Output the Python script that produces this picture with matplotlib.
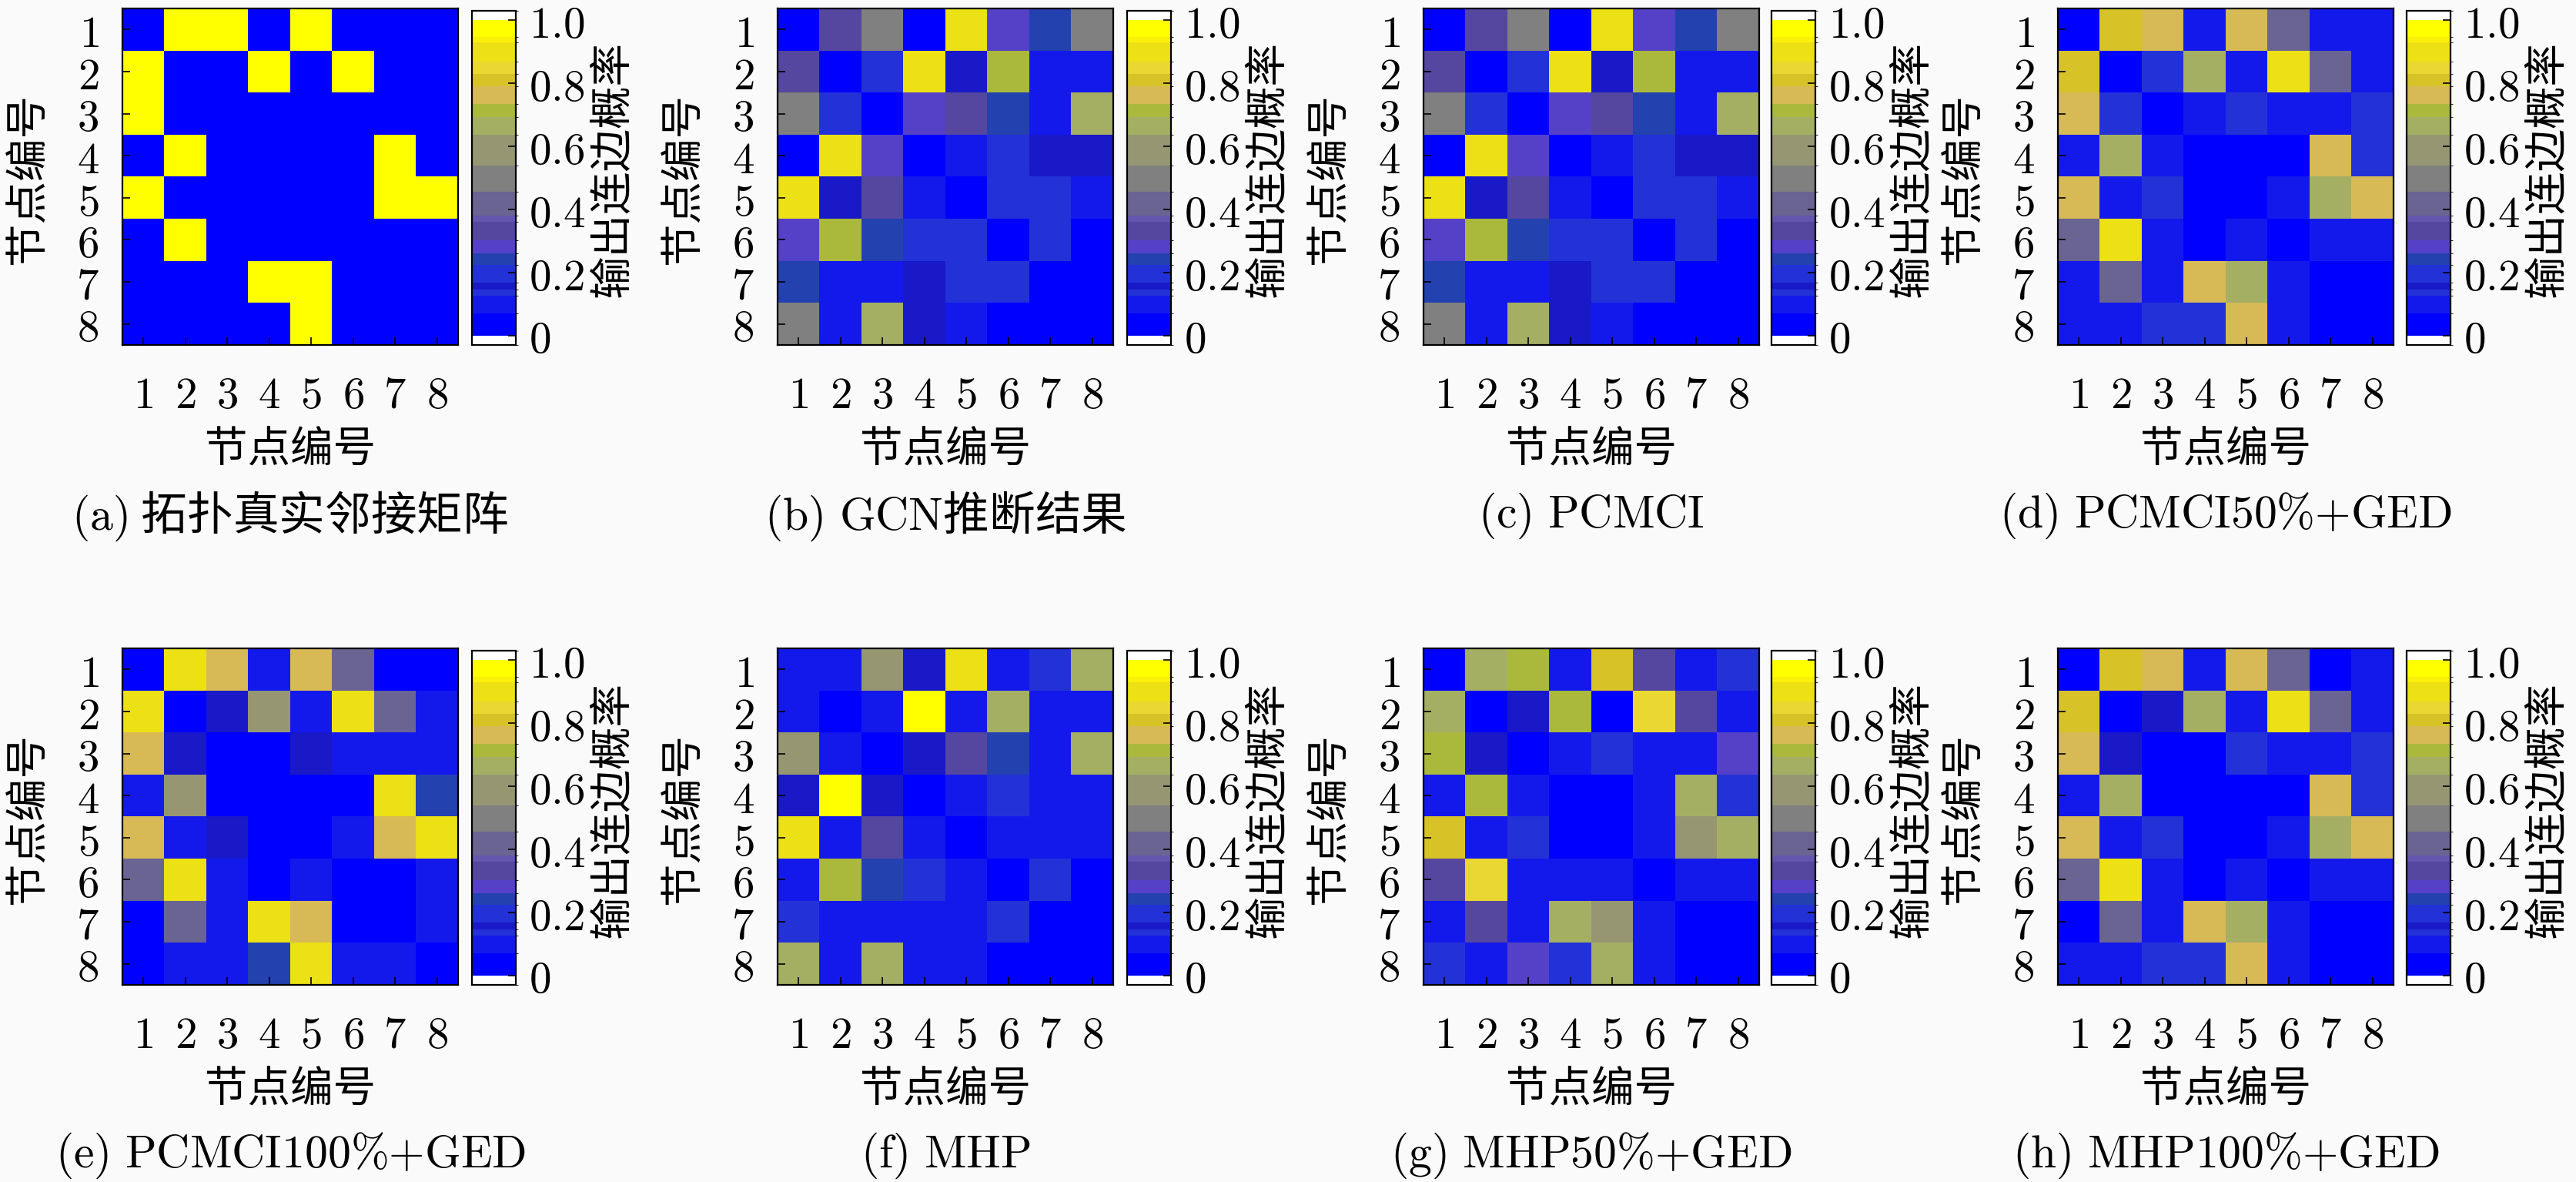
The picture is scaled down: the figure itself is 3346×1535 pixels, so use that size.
import numpy as np
import matplotlib
matplotlib.use("Agg")
import matplotlib.pyplot as plt
from matplotlib.colors import ListedColormap, BoundaryNorm
from matplotlib.cm import ScalarMappable

plt.rcParams['font.family'] = ['Noto Sans CJK SC', 'DejaVu Sans']
plt.rcParams['mathtext.fontset'] = 'cm'

# ---------------- data ----------------
nodes = [1, 2, 3, 4, 5, 6, 7, 8]
cbar_ticks = [0, 0.2, 0.4, 0.6, 0.8, 1.0]
cbar_ticklabels = ['0', '0.2', '0.4', '0.6', '0.8', '1.0']

true_adj = [
    [0, 1, 1, 0, 1, 0, 0, 0],
    [1, 0, 0, 1, 0, 1, 0, 0],
    [1, 0, 0, 0, 0, 0, 0, 0],
    [0, 1, 0, 0, 0, 0, 1, 0],
    [1, 0, 0, 0, 0, 0, 1, 1],
    [0, 1, 0, 0, 0, 0, 0, 0],
    [0, 0, 0, 1, 1, 0, 0, 0],
    [0, 0, 0, 0, 1, 0, 0, 0],
]
gcn = [
    [0.03, 0.35, 0.50, 0.03, 0.90, 0.28, 0.24, 0.50],
    [0.33, 0.02, 0.20, 0.92, 0.15, 0.71, 0.10, 0.10],
    [0.50, 0.20, 0.02, 0.28, 0.32, 0.24, 0.10, 0.67],
    [0.02, 0.92, 0.28, 0.03, 0.10, 0.18, 0.15, 0.15],
    [0.90, 0.15, 0.33, 0.10, 0.03, 0.18, 0.18, 0.10],
    [0.28, 0.71, 0.24, 0.18, 0.18, 0.03, 0.18, 0.03],
    [0.24, 0.10, 0.10, 0.15, 0.18, 0.18, 0.03, 0.03],
    [0.50, 0.10, 0.67, 0.15, 0.10, 0.05, 0.03, 0.03],
]
pcmci = [
    [0.03, 0.35, 0.50, 0.03, 0.90, 0.28, 0.24, 0.50],
    [0.33, 0.02, 0.20, 0.92, 0.15, 0.71, 0.10, 0.10],
    [0.50, 0.20, 0.02, 0.28, 0.32, 0.24, 0.10, 0.67],
    [0.02, 0.92, 0.28, 0.03, 0.10, 0.18, 0.15, 0.15],
    [0.90, 0.15, 0.33, 0.10, 0.03, 0.18, 0.18, 0.10],
    [0.28, 0.71, 0.24, 0.18, 0.18, 0.03, 0.18, 0.03],
    [0.24, 0.10, 0.10, 0.15, 0.18, 0.18, 0.03, 0.03],
    [0.50, 0.10, 0.67, 0.15, 0.10, 0.05, 0.03, 0.03],
]
pcmci50_ged = [
    [0.03, 0.81, 0.76, 0.10, 0.76, 0.42, 0.10, 0.10],
    [0.81, 0.02, 0.20, 0.67, 0.10, 0.90, 0.42, 0.10],
    [0.76, 0.20, 0.02, 0.10, 0.18, 0.10, 0.10, 0.18],
    [0.10, 0.67, 0.10, 0.03, 0.03, 0.03, 0.76, 0.18],
    [0.76, 0.10, 0.18, 0.03, 0.03, 0.10, 0.67, 0.76],
    [0.42, 0.90, 0.10, 0.03, 0.10, 0.03, 0.10, 0.10],
    [0.10, 0.42, 0.10, 0.76, 0.67, 0.10, 0.03, 0.03],
    [0.10, 0.10, 0.18, 0.18, 0.76, 0.10, 0.03, 0.03],
]
pcmci100_ged = [
    [0.03, 0.90, 0.76, 0.10, 0.76, 0.42, 0.03, 0.03],
    [0.90, 0.02, 0.15, 0.60, 0.10, 0.90, 0.42, 0.10],
    [0.76, 0.15, 0.03, 0.03, 0.15, 0.10, 0.10, 0.10],
    [0.10, 0.60, 0.03, 0.03, 0.03, 0.03, 0.90, 0.24],
    [0.76, 0.10, 0.15, 0.03, 0.03, 0.10, 0.76, 0.90],
    [0.42, 0.90, 0.10, 0.03, 0.10, 0.03, 0.03, 0.10],
    [0.03, 0.42, 0.10, 0.90, 0.76, 0.03, 0.03, 0.10],
    [0.03, 0.10, 0.10, 0.24, 0.90, 0.10, 0.10, 0.03],
]
mhp = [
    [0.10, 0.10, 0.60, 0.15, 0.90, 0.10, 0.18, 0.67],
    [0.10, 0.03, 0.10, 0.97, 0.10, 0.67, 0.10, 0.10],
    [0.60, 0.10, 0.03, 0.15, 0.33, 0.24, 0.10, 0.67],
    [0.15, 0.97, 0.15, 0.03, 0.10, 0.18, 0.10, 0.10],
    [0.90, 0.10, 0.33, 0.10, 0.03, 0.10, 0.10, 0.10],
    [0.10, 0.71, 0.24, 0.18, 0.10, 0.03, 0.18, 0.03],
    [0.18, 0.10, 0.10, 0.10, 0.10, 0.18, 0.03, 0.03],
    [0.67, 0.10, 0.67, 0.10, 0.10, 0.05, 0.03, 0.05],
]
mhp50_ged = [
    [0.03, 0.67, 0.71, 0.10, 0.81, 0.33, 0.10, 0.18],
    [0.67, 0.03, 0.15, 0.71, 0.05, 0.85, 0.33, 0.10],
    [0.71, 0.15, 0.03, 0.10, 0.18, 0.10, 0.10, 0.28],
    [0.10, 0.71, 0.10, 0.03, 0.03, 0.10, 0.67, 0.18],
    [0.81, 0.10, 0.18, 0.03, 0.03, 0.10, 0.60, 0.67],
    [0.33, 0.85, 0.10, 0.10, 0.10, 0.03, 0.10, 0.10],
    [0.10, 0.33, 0.10, 0.67, 0.60, 0.10, 0.03, 0.03],
    [0.18, 0.10, 0.28, 0.18, 0.67, 0.10, 0.03, 0.03],
]
mhp100_ged = [
    [0.03, 0.81, 0.76, 0.10, 0.76, 0.42, 0.03, 0.10],
    [0.81, 0.03, 0.15, 0.67, 0.10, 0.90, 0.42, 0.10],
    [0.76, 0.15, 0.03, 0.03, 0.18, 0.10, 0.10, 0.18],
    [0.10, 0.67, 0.03, 0.03, 0.03, 0.03, 0.76, 0.18],
    [0.76, 0.10, 0.18, 0.03, 0.03, 0.10, 0.67, 0.76],
    [0.42, 0.90, 0.10, 0.03, 0.10, 0.03, 0.10, 0.10],
    [0.03, 0.42, 0.10, 0.76, 0.67, 0.10, 0.03, 0.03],
    [0.10, 0.10, 0.18, 0.18, 0.76, 0.10, 0.03, 0.03],
]

matrices = [true_adj, gcn, pcmci, pcmci50_ged,
            pcmci100_ged, mhp, mhp50_ged, mhp100_ged]
captions = [
    r'$\mathrm{(a)}$ 拓扑真实邻接矩阵',
    r'$\mathrm{(b)\ GCN}$推断结果',
    r'$\mathrm{(c)\ PCMCI}$',
    r'$\mathrm{(d)\ PCMCI50\%}{+}\mathrm{GED}$',
    r'$\mathrm{(e)\ PCMCI100\%}{+}\mathrm{GED}$',
    r'$\mathrm{(f)\ MHP}$',
    r'$\mathrm{(g)\ MHP50\%}{+}\mathrm{GED}$',
    r'$\mathrm{(h)\ MHP100\%}{+}\mathrm{GED}$',
]
axis_label = '节点编号'
cbar_label = '输出连边概率'

# ---------------- colormap (custom stepped) ----------------
bounds = [-0.03, 0.0, 0.069, 0.127, 0.147, 0.167, 0.224, 0.261, 0.302, 0.36,
          0.38, 0.457, 0.539, 0.637, 0.694, 0.735, 0.79, 0.83, 0.87, 0.93,
          0.947, 1.0 + 1e-9, 1.03]
rgb = [(255, 255, 255), (0, 0, 255), (20, 25, 235), (35, 50, 215), (25, 25, 200),
       (35, 50, 215), (35, 65, 175), (85, 65, 200), (85, 70, 160), (100, 85, 175),
       (105, 100, 145), (128, 128, 128), (150, 150, 115), (165, 175, 100),
       (170, 185, 60), (215, 185, 85), (215, 195, 40), (235, 215, 50),
       (235, 225, 20), (250, 240, 10), (255, 255, 0), (255, 255, 255)]
cmap = ListedColormap([tuple(v / 255 for v in c) for c in rgb])
norm = BoundaryNorm(bounds, cmap.N)

# ---------------- layout ----------------
W, H = 3346, 1535
BG = '#fafafa'
fig = plt.figure(figsize=(W / 100, H / 100), dpi=100, facecolor=BG)


def rect(x, y, w, h):
    return [x / W, 1 - (y + h) / H, w / W, h / H]


def ftxt(x, y, s, **kw):
    fig.text(x / W, 1 - y / H, s, **kw)


col_left = [159, 1010, 1849, 2673]
cb_left = [613, 1464, 2301, 3126]
row_top = [11, 842]
HM = 436
NUM = 41
CJK = 40
tick_lbls = [f'${n}$' for n in nodes]

for i, (mat, cap) in enumerate(zip(matrices, captions)):
    r, c = divmod(i, 4)
    L, T = col_left[c], row_top[r]
    ax = fig.add_axes(rect(L, T, HM, 437))
    ax.imshow(np.array(mat, dtype=float), cmap=cmap, norm=norm,
              aspect='auto', interpolation='nearest')
    ax.set_xticks(range(len(nodes)))
    ax.set_yticks(range(len(nodes)))
    ax.set_xticklabels(tick_lbls, fontsize=NUM)
    ax.set_yticklabels(tick_lbls, fontsize=NUM)
    ax.tick_params(axis='x', direction='in', length=7, width=1.2, pad=26,
                   top=False, bottom=True)
    ax.tick_params(axis='y', direction='in', length=7, width=1.2, pad=22,
                   left=True, right=False)
    for sp in ax.spines.values():
        sp.set_linewidth(1.6)

    # colorbar
    cax = fig.add_axes(rect(cb_left[c], T + 3, 57, 434))
    sm = ScalarMappable(norm=norm, cmap=cmap)
    cb = fig.colorbar(sm, cax=cax, spacing='proportional', ticks=cbar_ticks)
    cb.ax.set_yticklabels([f'${t}$' for t in cbar_ticklabels], fontsize=NUM)
    cb.ax.tick_params(direction='in', length=7, width=1.2, pad=12,
                      right=True, left=False)
    cb.outline.set_linewidth(1.6)
    cb.ax.set_ylim(bounds[0], bounds[-1])

    # labels
    ftxt(L - 122, T + 221, axis_label, rotation=90, ha='center', va='center',
         fontsize=CJK)
    ftxt(L + 218, T + 574, axis_label, ha='center', va='center', fontsize=CJK)
    ftxt(cb_left[c] + 183, T + 209, cbar_label, rotation=90, ha='center',
         va='center', fontsize=CJK)
    ftxt(L + 218, T + 659, cap, ha='center', va='center', fontsize=43)

fig.savefig('out.png', dpi=100, facecolor=BG)
